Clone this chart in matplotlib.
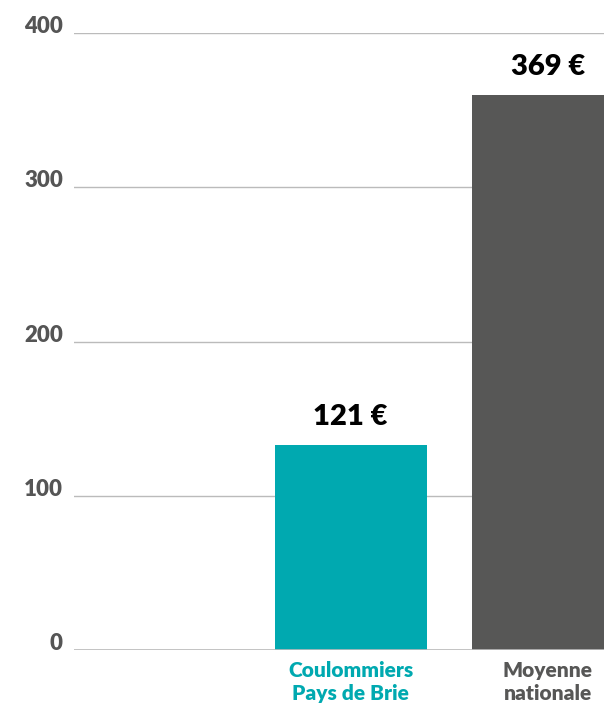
import matplotlib.pyplot as plt
import numpy as np

# data
categories = ["Coulommiers\nPays de Brie", "Moyenne\nnationale"]
bar_values = [133, 360]
value_labels = ["121 €", "369 €"]
y_ticks = [0, 100, 200, 300, 400]

teal = "#00A9B0"
dark = "#575756"
bar_colors = [teal, dark]
label_colors = [teal, dark]

plt.rcParams['font.family'] = ['Lato', 'DejaVu Sans']

fig = plt.figure(figsize=(6.04, 7.07), dpi=100)
ax = fig.add_axes([74 / 604, 57 / 707, 530 / 604, 616.7 / 707])

x = np.arange(1, len(categories) + 1)
ax.bar(x, bar_values, width=0.7716, color=bar_colors, zorder=3)

for xi, v, lab in zip(x, bar_values, value_labels):
    ax.text(xi, v + 10, lab, ha='center', va='bottom', fontsize=21,
            fontweight='heavy', color='black')

for xi, cat, c in zip(x, categories, label_colors):
    ax.text(xi, -7, cat, ha='center', va='top', fontsize=15,
            fontweight='heavy', color=c, linespacing=1.25)

ax.set_xlim(-0.4046, 2.2858)
ax.set_ylim(0, 400)
ax.set_yticks(y_ticks)
ax.set_yticklabels([str(t) for t in y_ticks], fontsize=16, fontweight='heavy',
                   color='#555555')
for lab in ax.get_yticklabels():
    lab.set_verticalalignment('baseline')
ax.tick_params(axis='y', length=0, pad=8)
ax.set_xticks([])
ax.yaxis.grid(True, color='#BBBBBB', linewidth=1, zorder=0)
ax.set_axisbelow(True)
for s in ax.spines.values():
    s.set_visible(False)
ax.axhline(0, color='#BBBBBB', linewidth=1.2, zorder=4)

fig.savefig("out.png", dpi=100)
